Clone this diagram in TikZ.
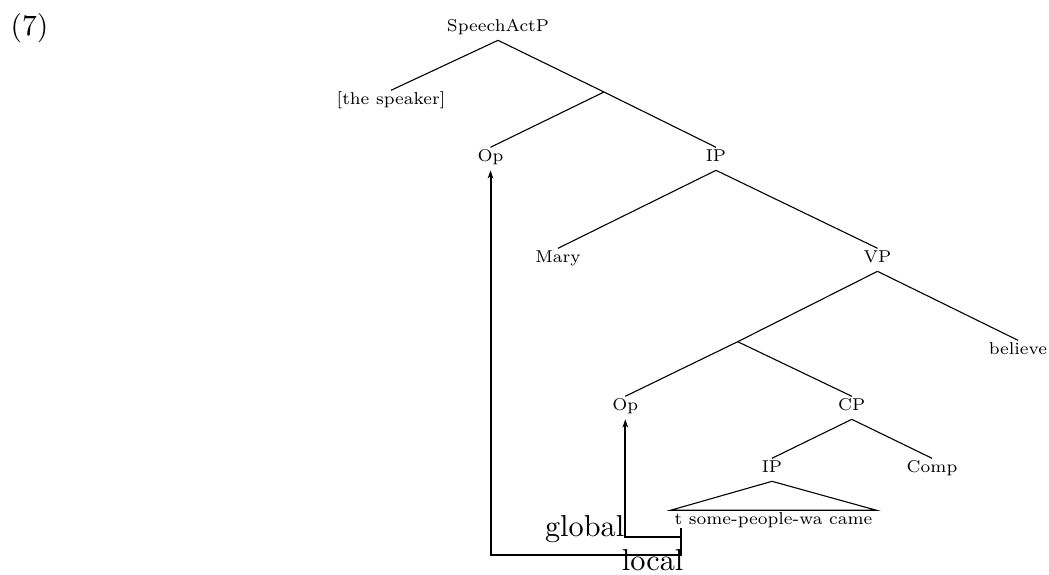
\documentclass[tikz,border=0pt]{standalone}
\usetikzlibrary{arrows.meta}
\begin{document}
\begin{tikzpicture}[x=1pt,y=-1pt,
  lab/.style={font=\fontsize{7}{8}\selectfont, scale=2.45, inner xsep=0pt, inner ysep=0pt,
              text height=5.6pt, text depth=3.4pt, anchor=base},
  edge/.style={line width=1.1pt},
  mv/.style={line width=2pt},
  mvarr/.style={mv, -{Stealth[length=8pt,width=5.5pt,inset=2pt]}},
  big/.style={font=\fontsize{10}{12}\selectfont, scale=3.03, inner sep=0pt},
  exnum/.style={font=\fontsize{10}{12}\selectfont, scale=2.95, inner sep=0pt}]
\useasboundingbox (0,0) rectangle (1049,575);

\node[exnum, anchor=base west] (ex) at (10,36) {(7)};

% tree labels
\node[lab] (SA)   at (498,31.5)   {SpeechActP};
\node[lab] (spk)  at (391,104.5)  {[the speaker]};
\coordinate (X) at (604,92);
\node[lab] (Op1)  at (490.5,161.5) {Op};
\node[lab] (IP1)  at (716,161.5)  {IP};
\node[lab] (Mary) at (558,262.5)  {Mary};
\node[lab] (VP)   at (877.5,262.5) {VP};
\coordinate (Y) at (737.7,341.7);
\node[lab] (bel)  at (1018,354.5) {believe};
\node[lab] (Op2)  at (625.3,410.5) {Op};
\node[lab] (CP)   at (851.8,410.5) {CP};
\node[lab] (IP2)  at (772,472.5)  {IP};
\node[lab] (Comp) at (932,472.5)  {Comp};
\node[lab, inner xsep=1.5pt] (tt) at (773.5,524.5) {t some-people-wa came};

% tree edges
\draw[edge] (SA.south) -- (spk.north);
\draw[edge] (SA.south) -- (X);
\draw[edge] (X) -- (Op1.north);
\draw[edge] (X) -- (IP1.north);
\draw[edge] (IP1.south) -- (Mary.north);
\draw[edge] (IP1.south) -- (VP.north);
\draw[edge] (VP.south) -- (Y);
\draw[edge] (VP.south) -- (bel.north);
\draw[edge] (Y) -- (Op2.north);
\draw[edge] (Y) -- (CP.north);
\draw[edge] (CP.south) -- (IP2.north);
\draw[edge] (CP.south) -- (Comp.north);
\draw[edge] (IP2.south) -- (tt.north west) -- (tt.north east) -- cycle;

% movement paths
\coordinate (tr) at (681,528);
\coordinate (lc) at (681,555);
\coordinate (gc) at (681,536.7);
\draw[mvarr] (tr) -- (lc) -| (Op1.south);
\draw[mvarr] (gc) -| (Op2.south);

\node[big, anchor=base east] (gl) at (624.8,536) {global};
\node[big, anchor=base east, text depth=0pt] (lo) at (684,570) {local};
\end{tikzpicture}
\end{document}
